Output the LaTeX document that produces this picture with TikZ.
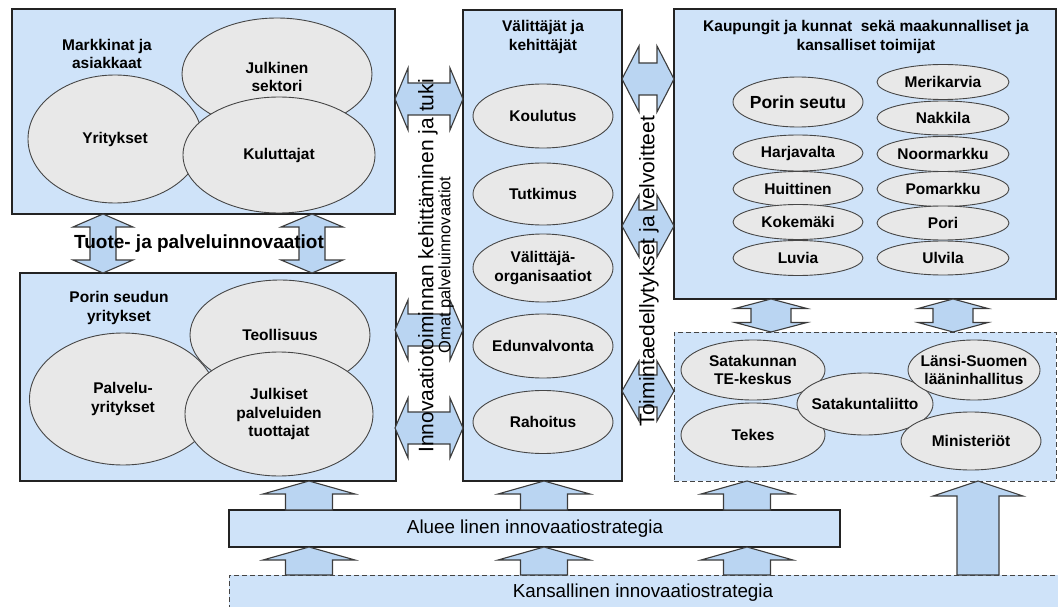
\documentclass[tikz,border=0pt]{standalone}
\usepackage{fontspec}
\setmainfont{Liberation Sans}
\usetikzlibrary{shapes.geometric}
\definecolor{boxfill}{RGB}{207,227,249}
\definecolor{boxline}{RGB}{35,35,35}
\definecolor{arrowfill}{RGB}{186,213,242}
\definecolor{arrline}{RGB}{60,60,60}
\definecolor{ellfill}{RGB}{232,232,232}
\definecolor{ellline}{RGB}{70,70,70}
\newcommand{\BlkV}[6]{%
\draw[blk] (#1,#2) -- (#1+#4,#2+#6) -- (#1+#5,#2+#6) -- (#1+#5,#3-#6) -- (#1+#4,#3-#6) -- (#1,#3) -- (#1-#4,#3-#6) -- (#1-#5,#3-#6) -- (#1-#5,#2+#6) -- (#1-#4,#2+#6) -- cycle;}
\newcommand{\BlkH}[6]{%
\draw[blk] (#2,#1) -- (#2+#6,#1-#4) -- (#2+#6,#1-#5) -- (#3-#6,#1-#5) -- (#3-#6,#1-#4) -- (#3,#1) -- (#3-#6,#1+#4) -- (#3-#6,#1+#5) -- (#2+#6,#1+#5) -- (#2+#6,#1+#4) -- cycle;}
\newcommand{\BlkUp}[6]{%
\draw[blk] (#1,#2) -- (#1+#4,#2+#6) -- (#1+#5,#2+#6) -- (#1+#5,#3) -- (#1-#5,#3) -- (#1-#5,#2+#6) -- (#1-#4,#2+#6) -- cycle;}
\tikzset{
  panel/.style={draw=boxline, fill=boxfill, line width=1.2pt, inner sep=0pt, outer sep=0pt, anchor=north west},
  dpanel/.style={draw=boxline!85, fill=boxfill, line width=1pt, dash pattern=on 5pt off 3pt, inner sep=0pt, outer sep=0pt, anchor=north west},
  ell/.style={ellipse, draw=ellline, fill=ellfill, line width=0.9pt, inner sep=0pt},
  blk/.style={draw=arrline, fill=arrowfill, line width=1.1pt, line join=miter},
  lbl/.style={font=\bfseries\fontsize{15.5}{18.5}\selectfont, align=center, inner sep=0pt},
  ttl/.style={font=\bfseries\fontsize{15.5}{18.5}\selectfont, align=center, inner sep=0pt},
  vtxt/.style={rotate=90, inner sep=0pt, font=\fontsize{21}{24}\selectfont},
  bartxt/.style={inner sep=0pt, font=\fontsize{18.8}{22}\selectfont}
}
\begin{document}
\begin{tikzpicture}[x=1pt,y=-1pt]
\useasboundingbox (0,0) rectangle (1058,607);
\clip (0,0) rectangle (1058,607);

% panels
\node[panel, minimum width=383pt, minimum height=205pt] (mark) at (12,9) {};
\node[panel, minimum width=376pt, minimum height=208pt] (porin) at (20,273) {};
\node[panel, minimum width=159pt, minimum height=471pt] (valit) at (463,10) {};
\node[panel, minimum width=382pt, minimum height=290pt] (kaup) at (674,9) {};
\node[dpanel, minimum width=382pt, minimum height=149pt] (orgs) at (674,332) {};
\node[panel, minimum width=611pt, minimum height=37pt] (alue) at (229,510) {};
\node[dpanel, minimum width=840pt, minimum height=50pt] (kans) at (229,575) {};

% titles
\node[ttl] (tmark) at (107,54) {Markkinat ja\\asiakkaat};
\node[ttl] (tporin) at (119,308) {Porin seudun\\yritykset};
\node[ttl] (tvalit) at (543,37) {Välittäjät ja\\kehittäjät};
\node[ttl] (tkaup) at (866,37) {Kaupungit ja kunnat\ \ sekä maakunnalliset ja\\kansalliset toimijat};

% box A ellipses
\node[ell, minimum width=174pt, minimum height=128pt, label={[lbl]center:Yritykset}] (yri) at (115,139) {};
\node[ell, minimum width=190pt, minimum height=112pt, label={[lbl, yshift=-3pt]center:Julkinen\\sektori}] (julk) at (277,74) {};
\node[ell, minimum width=192pt, minimum height=116pt, label={[lbl]center:Kuluttajat}] (kulu) at (279,155) {};

% box B ellipses
\node[ell, minimum width=180pt, minimum height=110pt, label={[lbl]center:Teollisuus}] (teol) at (280,335) {};
\node[ell, minimum width=187pt, minimum height=132pt, label={[lbl]center:Palvelu-\\yritykset}] (palv) at (123,399) {};
\node[ell, minimum width=188pt, minimum height=124pt, label={[lbl]center:Julkiset\\palveluiden\\tuottajat}] (jpt) at (279,414) {};

% middle ellipses
\node[ell, minimum width=140pt, minimum height=64pt, label={[lbl]center:Koulutus}] (kou) at (543,116) {};
\node[ell, minimum width=140pt, minimum height=62pt, label={[lbl]center:Tutkimus}] (tut) at (543,194) {};
\node[ell, minimum width=140pt, minimum height=68pt, label={[lbl]center:Välittäjä-\\organisaatiot}] (vo) at (543,268) {};
\node[ell, minimum width=140pt, minimum height=64pt, label={[lbl]center:Edunvalvonta}] (edu) at (543,346) {};
\node[ell, minimum width=140pt, minimum height=63pt, label={[lbl]center:Rahoitus}] (rah) at (543,422) {};

% right column ellipses
\node[ell, minimum width=130pt, minimum height=50pt, label={[lbl, font=\bfseries\fontsize{17.5}{20}\selectfont]center:Porin seutu}] (ps) at (798,102) {};
\node[ell, minimum width=130pt, minimum height=36pt, label={[lbl]center:Harjavalta}] (har) at (798,153) {};
\node[ell, minimum width=130pt, minimum height=35pt, label={[lbl]center:Huittinen}] (hui) at (798,189) {};
\node[ell, minimum width=130pt, minimum height=35pt, label={[lbl]center:Kokemäki}] (kok) at (798,222) {};
\node[ell, minimum width=130pt, minimum height=35pt, label={[lbl]center:Luvia}] (luv) at (798,258) {};
\node[ell, minimum width=132pt, minimum height=35pt, label={[lbl]center:Merikarvia}] (mer) at (943,82) {};
\node[ell, minimum width=132pt, minimum height=34pt, label={[lbl]center:Nakkila}] (nak) at (943,118) {};
\node[ell, minimum width=132pt, minimum height=35pt, label={[lbl]center:Noormarkku}] (noo) at (943,154) {};
\node[ell, minimum width=132pt, minimum height=35pt, label={[lbl]center:Pomarkku}] (pom) at (943,189) {};
\node[ell, minimum width=132pt, minimum height=34pt, label={[lbl]center:Pori}] (por) at (943,223) {};
\node[ell, minimum width=132pt, minimum height=34pt, label={[lbl]center:Ulvila}] (ulv) at (943,258) {};

% lower right ellipses
\node[ell, minimum width=144pt, minimum height=60pt, label={[lbl]center:Satakunnan\\TE-keskus}] (te) at (753,370) {};
\node[ell, minimum width=144pt, minimum height=64pt, label={[lbl]center:Tekes}] (tek) at (753,435) {};
\node[ell, minimum width=136pt, minimum height=62pt, label={[lbl]center:Satakuntaliitto}] (sat) at (865,404) {};
\node[ell, minimum width=132pt, minimum height=60pt, label={[lbl]center:Länsi-Suomen\\lääninhallitus}] (lan) at (974,370) {};
\node[ell, minimum width=140pt, minimum height=58pt, label={[lbl]center:Ministeriöt}] (min) at (971,441) {};

% block arrows
\BlkV{103}{214}{273}{30}{13}{13}
\BlkV{312}{214}{273}{31}{13}{13}
\BlkH{99}{395}{463}{31}{16}{13}
\BlkH{330}{395}{463}{30}{16}{13}
\BlkH{428}{395}{463}{30}{16}{13}
\BlkH{79}{622}{674}{33}{16}{17}
\BlkH{226}{622}{674}{31}{16}{17}
\BlkH{391}{622}{674}{30}{16}{17}
\BlkV{771}{299}{332}{36}{20}{9.5}
\BlkV{953}{299}{332}{35}{20}{9.5}
\BlkUp{309}{481}{510}{46}{23.5}{13}
\BlkUp{544}{481}{510}{46}{23.5}{13}
\BlkUp{747}{481}{510}{46}{23.5}{13}
\BlkUp{309}{547}{575}{46}{23.5}{13}
\BlkUp{544}{547}{575}{46}{23.5}{13}
\BlkUp{747}{547}{575}{46}{23.5}{13}
\BlkUp{978}{481}{575}{45}{21}{15}

% texts
\node[inner sep=0pt, font=\bfseries\fontsize{19}{22}\selectfont] (tuote) at (199,244) {Tuote- ja palveluinnovaatiot};
\node[vtxt] (innov) at (428,266) {Innovaatiotoiminnan kehittäminen ja tuki};
\node[vtxt, font=\fontsize{16.5}{19}\selectfont] (omat) at (446,265) {Omat palveluinnovaatiot};
\node[vtxt] (toim) at (649,271) {Toimintaedellytykset ja velvoitteet};
\node[bartxt] (aluet) at (535,529) {Aluee linen innovaatiostrategia};
\node[bartxt] (kanst) at (643,593) {Kansallinen innovaatiostrategia};
\end{tikzpicture}
\end{document}
